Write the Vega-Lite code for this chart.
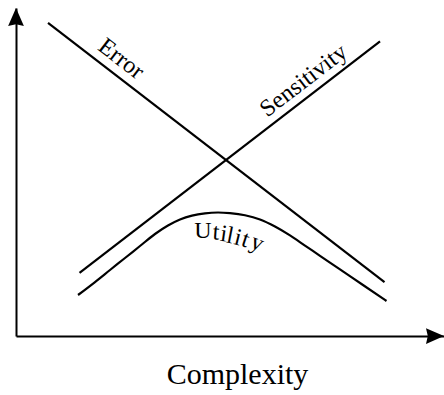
{
  "$schema": "https://vega.github.io/schema/vega-lite/v6.json",
  "width": 428,
  "height": 328,
  "autosize": {"type": "none"},
  "padding": {"left": 16, "top": 8, "right": 0, "bottom": 59},
  "background": "white",
  "config": {"view": {"stroke": null}, "font": "Liberation Serif"},
  "datasets": {
    "curves": [
      {"series": "Error", "x": 7.48, "y": 95.43},
      {"series": "Error", "x": 86.1, "y": 16.46},
      {"series": "Sensitivity", "x": 14.84, "y": 19.21},
      {"series": "Sensitivity", "x": 85.05, "y": 89.79},
      {"series": "Utility", "x": 14.49, "y": 12.5},
      {"series": "Utility", "x": 18.46, "y": 16.46},
      {"series": "Utility", "x": 21.96, "y": 20.12},
      {"series": "Utility", "x": 25.47, "y": 23.78},
      {"series": "Utility", "x": 28.97, "y": 27.44},
      {"series": "Utility", "x": 32.48, "y": 31.1},
      {"series": "Utility", "x": 35.51, "y": 33.69},
      {"series": "Utility", "x": 38.32, "y": 35.52},
      {"series": "Utility", "x": 41.12, "y": 36.71},
      {"series": "Utility", "x": 44.16, "y": 37.41},
      {"series": "Utility", "x": 47.2, "y": 37.65},
      {"series": "Utility", "x": 50.0, "y": 37.44},
      {"series": "Utility", "x": 53.5, "y": 36.8},
      {"series": "Utility", "x": 57.01, "y": 35.52},
      {"series": "Utility", "x": 60.51, "y": 33.38},
      {"series": "Utility", "x": 64.02, "y": 30.67},
      {"series": "Utility", "x": 67.52, "y": 27.56},
      {"series": "Utility", "x": 71.03, "y": 24.45},
      {"series": "Utility", "x": 75.7, "y": 20.3},
      {"series": "Utility", "x": 81.07, "y": 15.55},
      {"series": "Utility", "x": 86.57, "y": 10.67}
    ],
    "arrows": [
      {"dir": "up", "x": 0, "y": 100},
      {"dir": "right", "x": 100, "y": 0}
    ],
    "labels": [
      {"label": "Error", "x": 24.53, "y": 84.45},
      {"label": "Sensitivity", "x": 67.22, "y": 77.8}
    ],
    "utility": [
      {"pos": 1, "letter": "U", "x": 43.69, "y": 29.73},
      {"pos": 2, "letter": "t", "x": 46.61, "y": 29.42},
      {"pos": 3, "letter": "i", "x": 48.32, "y": 28.9},
      {"pos": 4, "letter": "l", "x": 49.72, "y": 28.41},
      {"pos": 5, "letter": "i", "x": 51.47, "y": 27.84},
      {"pos": 6, "letter": "t", "x": 53.15, "y": 27.29},
      {"pos": 7, "letter": "y", "x": 55.72, "y": 26.37}
    ]
  },
  "encoding": {
    "x": {
      "field": "x",
      "type": "quantitative",
      "scale": {"domain": [0, 100], "nice": false, "zero": false},
      "axis": {
        "title": "Complexity",
        "labels": false,
        "ticks": false,
        "grid": false,
        "domainColor": "black",
        "domainWidth": 2,
        "titleFont": "Liberation Serif",
        "titleFontSize": 30,
        "titleFontWeight": "normal",
        "titleColor": "black",
        "titleBaseline": "alphabetic",
        "titleAlign": "center",
        "titleX": 221,
        "titlePadding": 47
      }
    },
    "y": {
      "field": "y",
      "type": "quantitative",
      "scale": {"domain": [0, 100], "nice": false, "zero": false},
      "axis": {
        "title": null,
        "labels": false,
        "ticks": false,
        "grid": false,
        "domainColor": "black",
        "domainWidth": 2
      }
    }
  },
  "layer": [
    {
      "data": {"name": "curves"},
      "mark": {"type": "line", "color": "black", "strokeWidth": 2.2, "interpolate": "monotone"},
      "encoding": {"detail": {"field": "series", "type": "nominal"}}
    },
    {
      "data": {"name": "arrows"},
      "mark": {"type": "point", "filled": true, "color": "black", "opacity": 1, "size": 81, "strokeWidth": 0},
      "encoding": {
        "shape": {
          "field": "dir",
          "type": "nominal",
          "scale": {
            "domain": ["up", "right"],
            "range": ["M0,0L1.75,4L0,3.6L-1.75,4Z", "M0,0L-4,-1.75L-3.6,0L-4,1.75Z"]
          },
          "legend": null
        }
      }
    },
    {
      "data": {"name": "labels"},
      "transform": [{"filter": "datum.label === 'Error'"}],
      "mark": {"type": "text", "font": "Liberation Serif", "fontSize": 24, "color": "black", "angle": 37.6, "align": "center", "baseline": "middle"},
      "encoding": {"text": {"field": "label"}}
    },
    {
      "data": {"name": "labels"},
      "transform": [{"filter": "datum.label === 'Sensitivity'"}],
      "mark": {"type": "text", "font": "Liberation Serif", "fontSize": 24, "color": "black", "angle": -37.6, "align": "center", "baseline": "middle"},
      "encoding": {"text": {"field": "label"}}
    },
    {
      "data": {"name": "utility"},
      "transform": [{"filter": "datum.pos === 1"}],
      "mark": {"type": "text", "font": "Liberation Serif", "fontSize": 24, "color": "black", "angle": 0, "align": "center", "baseline": "alphabetic"},
      "encoding": {"text": {"field": "letter"}}
    },
    {
      "data": {"name": "utility"},
      "transform": [{"filter": "datum.pos === 2"}],
      "mark": {"type": "text", "font": "Liberation Serif", "fontSize": 24, "color": "black", "angle": 4, "align": "center", "baseline": "alphabetic"},
      "encoding": {"text": {"field": "letter"}}
    },
    {
      "data": {"name": "utility"},
      "transform": [{"filter": "datum.pos === 3"}],
      "mark": {"type": "text", "font": "Liberation Serif", "fontSize": 24, "color": "black", "angle": 8, "align": "center", "baseline": "alphabetic"},
      "encoding": {"text": {"field": "letter"}}
    },
    {
      "data": {"name": "utility"},
      "transform": [{"filter": "datum.pos === 4"}],
      "mark": {"type": "text", "font": "Liberation Serif", "fontSize": 24, "color": "black", "angle": 11, "align": "center", "baseline": "alphabetic"},
      "encoding": {"text": {"field": "letter"}}
    },
    {
      "data": {"name": "utility"},
      "transform": [{"filter": "datum.pos === 5"}],
      "mark": {"type": "text", "font": "Liberation Serif", "fontSize": 24, "color": "black", "angle": 14, "align": "center", "baseline": "alphabetic"},
      "encoding": {"text": {"field": "letter"}}
    },
    {
      "data": {"name": "utility"},
      "transform": [{"filter": "datum.pos === 6"}],
      "mark": {"type": "text", "font": "Liberation Serif", "fontSize": 24, "color": "black", "angle": 18, "align": "center", "baseline": "alphabetic"},
      "encoding": {"text": {"field": "letter"}}
    },
    {
      "data": {"name": "utility"},
      "transform": [{"filter": "datum.pos === 7"}],
      "mark": {"type": "text", "font": "Liberation Serif", "fontSize": 24, "color": "black", "angle": 22, "align": "center", "baseline": "alphabetic"},
      "encoding": {"text": {"field": "letter"}}
    }
  ]
}
